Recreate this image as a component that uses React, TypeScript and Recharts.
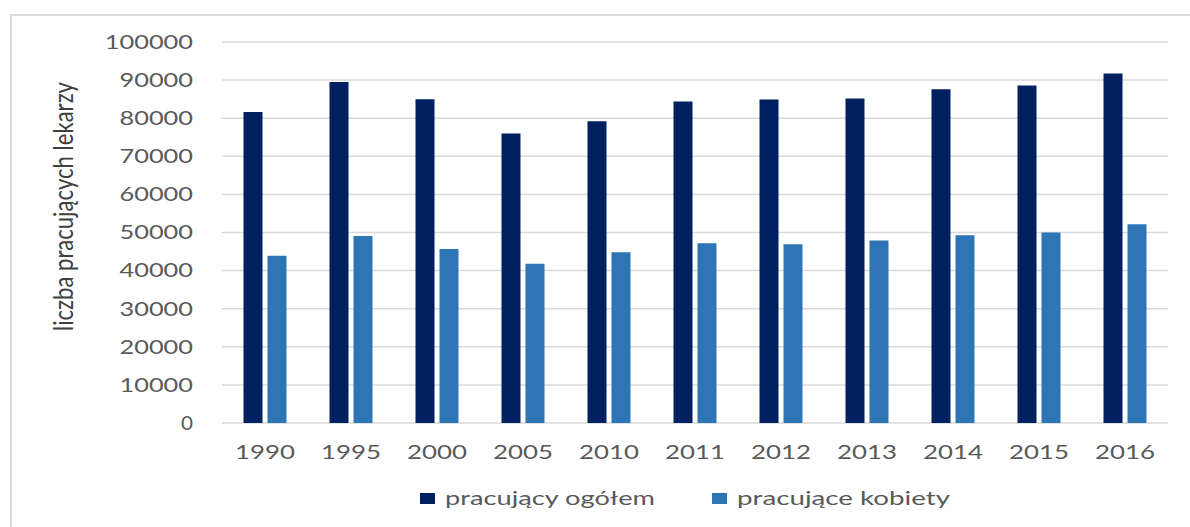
import React from 'react';
import { BarChart, Bar, XAxis, YAxis, CartesianGrid } from 'recharts';

const years = ['1990', '1995', '2000', '2005', '2010', '2011', '2012', '2013', '2014', '2015', '2016'];
const totalDoctors = [81600, 89500, 85000, 76000, 79200, 84400, 84900, 85200, 87600, 88600, 91700];
const womenDoctors = [43900, 49100, 45700, 41800, 44800, 47200, 46900, 47900, 49300, 50000, 52150];
const yTicks = [0, 10000, 20000, 30000, 40000, 50000, 60000, 70000, 80000, 90000, 100000];
const seriesNames = ['pracujący ogółem', 'pracujące kobiety'];
const axisTitle = 'liczba pracujących lekarzy';

const DARK = '#002060';
const LIGHT = '#2E75B6';
const seriesColors = [DARK, LIGHT];
const TEXT = '#595959';
const FONT = 'Lato, "Open Sans", sans-serif';

const data = years.map((y, i) => ({ year: y, total: totalDoctors[i], women: womenDoctors[i] }));

const YTick = (props: any) => {
  const { x, y, payload } = props;
  const s = String(payload.value);
  const len = s.length === 1 ? 12 : s.length * 14.7;
  return (
    <text x={x} y={y} dy="0.36em" textAnchor="end" fill={TEXT} fontFamily={FONT} fontSize={19}
      textLength={len} lengthAdjust="spacingAndGlyphs">{s}</text>
  );
};

const XTick = (props: any) => {
  const { x, y, payload } = props;
  const s = String(payload.value);
  return (
    <text x={x} y={y} dy="0.72em" textAnchor="middle" fill={TEXT} fontFamily={FONT} fontSize={19}
      textLength={s.length * 15} lengthAdjust="spacingAndGlyphs">{s}</text>
  );
};

const legendLayout = [
  { sx: 420, tx: 445, tl: 210 },
  { sx: 712, tx: 737, tl: 213 },
];

const LegendBlock = () => (
  <svg width={1190} height={32} style={{ position: 'absolute', left: 0, top: 480, display: 'block' }}>
    {seriesNames.map((name, i) => {
      const l = legendLayout[i];
      return (
        <g key={i}>
          <rect x={l.sx} y={13} width={15} height={11} fill={seriesColors[i]} />
          <text x={l.tx} y={25} fill={TEXT} fontFamily={FONT} fontSize={20}
            textLength={l.tl} lengthAdjust="spacingAndGlyphs">{name}</text>
        </g>
      );
    })}
  </svg>
);

const AxisTitle = () => (
  <text transform="translate(73,206.5) rotate(-90) scale(1,1.3)" textAnchor="middle" fill="#404040"
    fontFamily={FONT} fontSize={21} textLength={249} lengthAdjust="spacingAndGlyphs">
    {axisTitle}
  </text>
);

export default function App() {
  return (
    <div style={{ position: 'absolute', left: 0, top: 0, width: 1190, height: 527, background: '#fff', overflow: 'hidden' }}>
      <div style={{ position: 'absolute', left: 10, top: 14, width: 1300, height: 700, border: '2px solid #d9d9d9', boxSizing: 'border-box' }} />
      <div style={{ position: 'absolute', left: 0, top: 0 }}>
        <BarChart width={1190} height={527} data={data}
          margin={{ top: 42, right: 22, bottom: 74, left: 0 }}
          barCategoryGap="25%" barGap={5}>
          <CartesianGrid vertical={false} stroke="#d9d9d9" strokeWidth={1.5} />
          <XAxis dataKey="year" height={30} axisLine={false} tickLine={false} tickSize={0} tickMargin={22} tick={<XTick />} interval={0} />
          <YAxis width={222} domain={[0, 100000]} ticks={yTicks} axisLine={false} tickLine={false} tickSize={0} tickMargin={29}
            tick={<YTick />} interval={0} label={{ content: () => <AxisTitle /> }} />
          <Bar dataKey="total" name={seriesNames[0]} fill={DARK} isAnimationActive={false} />
          <Bar dataKey="women" name={seriesNames[1]} fill={LIGHT} isAnimationActive={false} />
        </BarChart>
      </div>
      <LegendBlock />
    </div>
  );
}
